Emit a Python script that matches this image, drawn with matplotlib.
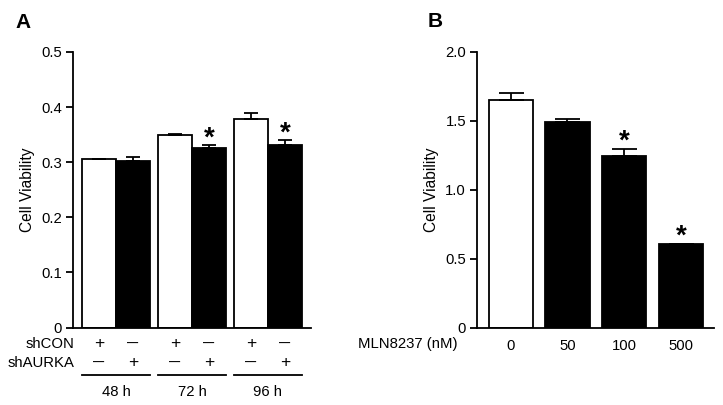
import numpy as np
from matplotlib import pyplot as plt
from matplotlib.transforms import blended_transform_factory

plt.rcParams['font.family'] = ['Liberation Sans', 'DejaVu Sans']

# panel A data
groups_a = ["48 h", "72 h", "96 h"]
shcon_vals = [0.305, 0.349, 0.379]
shcon_err = [0.001, 0.002, 0.011]
shaurka_vals = [0.303, 0.325, 0.331]
shaurka_err = [0.007, 0.006, 0.009]
shaurka_sig = [False, True, True]
row_labels = ["shCON", "shAURKA"]

# panel B data
doses = ["0", "50", "100", "500"]
mln_vals = [1.652, 1.494, 1.248, 0.605]
mln_err = [0.048, 0.016, 0.046, 0.0]
mln_sig = [False, False, True, True]

FS = 10.7

fig = plt.figure(figsize=(7.23, 4.05), dpi=100)
axA = fig.add_axes([0.101, 0.191, 0.329, 0.681])
axB = fig.add_axes([0.660, 0.191, 0.328, 0.681])

for ax in (axA, axB):
    ax.spines['top'].set_visible(False)
    ax.spines['right'].set_visible(False)
    ax.spines['left'].set_linewidth(1.3)
    ax.spines['bottom'].set_linewidth(1.3)
    ax.tick_params(axis='y', direction='out', length=5, width=1.3, labelsize=FS, pad=3)
    ax.set_ylabel("Cell Viability", fontsize=11.2)

# ---- panel A ----
step = 2.235
base = np.arange(len(groups_a)) * step + 0.765
x_con = base
x_aur = base + 1.0
axA.bar(x_con, shcon_vals, width=1.0, color='white', edgecolor='black', linewidth=1.3)
axA.bar(x_aur, shaurka_vals, width=1.0, color='black', edgecolor='black', linewidth=1.3)
axA.errorbar(x_con, shcon_vals, yerr=[np.zeros(3), shcon_err], fmt='none',
             ecolor='black', elinewidth=1.3, capsize=5, capthick=1.3)
axA.errorbar(x_aur, shaurka_vals, yerr=[np.zeros(3), shaurka_err], fmt='none',
             ecolor='black', elinewidth=1.3, capsize=5, capthick=1.3)
for xi, v, e, s in zip(x_aur, shaurka_vals, shaurka_err, shaurka_sig):
    if s:
        axA.text(xi, v + e - 0.011, "*", ha='center', va='bottom', fontsize=20, fontweight='bold')
axA.set_xlim(0, 7)
axA.set_ylim(0, 0.5)
axA.set_yticks([0, 0.1, 0.2, 0.3, 0.4, 0.5])
axA.set_yticklabels(["0", "0.1", "0.2", "0.3", "0.4", "0.5"])
axA.set_xticks([])
axA.yaxis.set_label_coords(-0.16, 0.5)

# +/- table under panel A
trA = blended_transform_factory(axA.transData, axA.transAxes)
axA.text(0.008, -0.059, row_labels[0], transform=axA.transAxes, ha='right', va='center', fontsize=FS)
axA.text(0.008, -0.128, row_labels[1], transform=axA.transAxes, ha='right', va='center', fontsize=FS)
for i in range(len(groups_a)):
    axA.text(x_con[i], -0.059, "+", transform=trA, ha='center', va='center', fontsize=12.5)
    axA.text(x_aur[i], -0.059, "—", transform=trA, ha='center', va='center', fontsize=8, fontweight='bold')
    axA.text(x_con[i], -0.128, "—", transform=trA, ha='center', va='center', fontsize=8, fontweight='bold')
    axA.text(x_aur[i], -0.128, "+", transform=trA, ha='center', va='center', fontsize=12.5)
    axA.plot([x_con[i] - 0.5, x_aur[i] + 0.5], [-0.172, -0.172], transform=trA,
             color='black', linewidth=1.3, clip_on=False)
    axA.text(base[i] + 0.5, -0.233, groups_a[i], transform=trA, ha='center', va='center', fontsize=FS)

# ---- panel B ----
xb = np.arange(len(doses))
colors_b = ['white', 'black', 'black', 'black']
axB.bar(xb, mln_vals, width=0.78, color=colors_b, edgecolor='black', linewidth=1.3)
axB.errorbar(xb, mln_vals, yerr=[np.zeros(4), mln_err], fmt='none',
             ecolor='black', elinewidth=1.3, capsize=9, capthick=1.3)
for xi, v, e, s in zip(xb, mln_vals, mln_err, mln_sig):
    if s:
        axB.text(xi, v + e - 0.04, "*", ha='center', va='bottom', fontsize=20, fontweight='bold')
axB.set_xlim(-0.59, 3.59)
axB.set_ylim(0, 2.0)
axB.set_yticks([0, 0.5, 1.0, 1.5, 2.0])
axB.set_yticklabels(["0", "0.5", "1.0", "1.5", "2.0"])
axB.set_xticks(xb)
axB.set_xticklabels(doses)
axB.tick_params(axis='x', length=0, labelsize=FS, pad=8)
axB.yaxis.set_label_coords(-0.16, 0.5)
axB.text(-0.084, -0.059, "MLN8237 (nM)", transform=axB.transAxes, ha='right', va='center', fontsize=FS)

fig.text(0.032, 0.945, "A", fontsize=15, fontweight='bold', ha='center', va='center')
fig.text(0.602, 0.948, "B", fontsize=15, fontweight='bold', ha='center', va='center')

fig.savefig("out.png", dpi=100)
